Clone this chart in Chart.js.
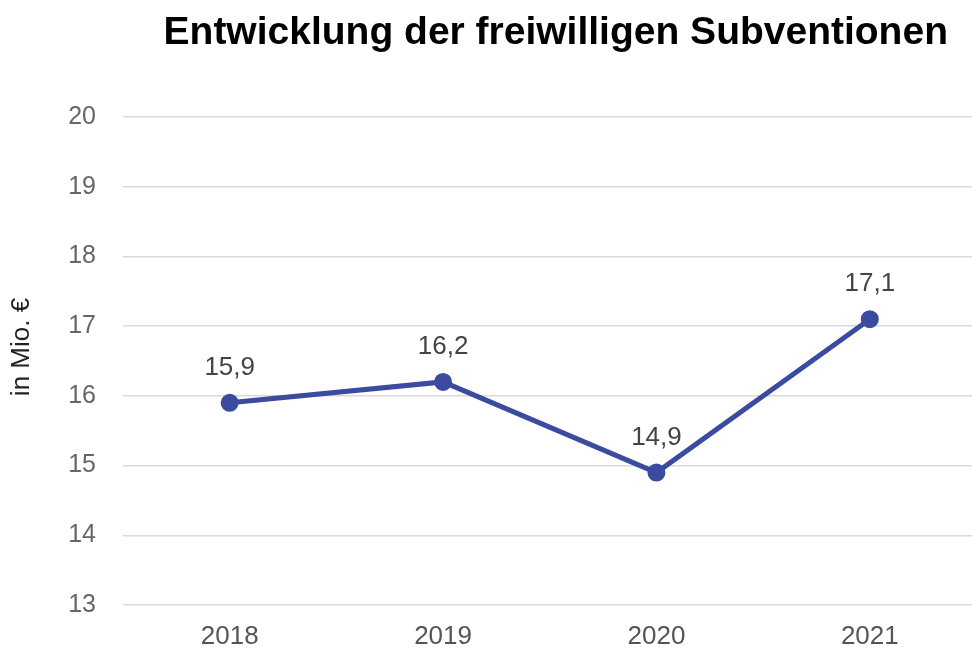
<!DOCTYPE html>
<html>
<head>
<meta charset="utf-8">
<script src="https://cdn.jsdelivr.net/npm/chart.js@4/dist/chart.umd.min.js"></script>
<style>
  html, body { margin: 0; padding: 0; background: #fff; overflow: hidden; }
  canvas { display: block; }
</style>
</head>
<body>
<canvas id="grafico" width="988" height="651"></canvas>
<script>
const titel = 'Entwicklung der freiwilligen Subventionen'
const jahre = ['2018', '2019', '2020', '2021']
const subventionen = [15.9, 16.2, 14.9, 17.1]
const y_min = 13
const y_max = 20
const y_titel = 'in Mio. €'

const schrift = '"Liberation Sans", Arial, sans-serif'
const fmt = v => v.toFixed(1).replace('.', ',')

// Titel + Achsentitel selbst zeichnen
const titelPlugin = {
  id: 'titelPlugin',
  afterDraw(chart) {
    const { ctx, chartArea } = chart
    ctx.save()
    ctx.font = 'bold 39px ' + schrift
    ctx.fillStyle = '#000'
    ctx.textAlign = 'center'
    ctx.textBaseline = 'alphabetic'
    ctx.fillText(titel, (chartArea.left + chartArea.right) / 2 + 6, 44)

    ctx.translate(22, 347)
    ctx.rotate(-Math.PI / 2)
    ctx.font = '26px ' + schrift
    ctx.fillStyle = '#222'
    ctx.textBaseline = 'middle'
    ctx.fillText(y_titel, 0, 0)
    ctx.restore()
  }
}

// Werte über den Punkten
const wertePlugin = {
  id: 'wertePlugin',
  afterDatasetsDraw(chart) {
    const { ctx } = chart
    const meta = chart.getDatasetMeta(0)
    ctx.save()
    ctx.font = '26px ' + schrift
    ctx.fillStyle = '#444'
    ctx.textAlign = 'center'
    ctx.textBaseline = 'middle'
    meta.data.forEach((p, i) => {
      ctx.fillText(fmt(subventionen[i]), p.x, p.y - 35)
    })
    ctx.restore()
  }
}

const ctx = document.getElementById('grafico')

const graph = new Chart(ctx, {
  type: 'line',
  data: {
    labels: jahre,
    datasets: [{
      data: subventionen,
      borderColor: '#3a4ba0',
      backgroundColor: '#3a4ba0',
      borderWidth: 5,
      pointRadius: 6.5,
      pointHoverRadius: 6.5,
      tension: 0,
      fill: false
    }]
  },
  options: {
    responsive: false,
    animation: false,
    layout: {
      padding: { top: 117, bottom: 0, left: 0, right: 0 }
    },
    plugins: {
      legend: { display: false },
      tooltip: { enabled: false },
      title: { display: false }
    },
    scales: {
      x: {
        offset: true,
        afterFit(scale) { scale.height = 46 },
        grid: { display: false, drawTicks: false },
        border: { display: false },
        ticks: {
          color: '#555',
          padding: 16,
          font: { size: 26, family: schrift }
        }
      },
      y: {
        min: y_min,
        max: y_max,
        afterFit(scale) { scale.width = 123 },
        grid: { color: '#d9d9d9', lineWidth: 1.5, drawTicks: false },
        border: { display: false },
        ticks: {
          stepSize: 1,
          color: '#666',
          padding: 27,
          font: { size: 25, family: schrift }
        }
      }
    }
  },
  plugins: [titelPlugin, wertePlugin]
})
</script>
</body>
</html>
